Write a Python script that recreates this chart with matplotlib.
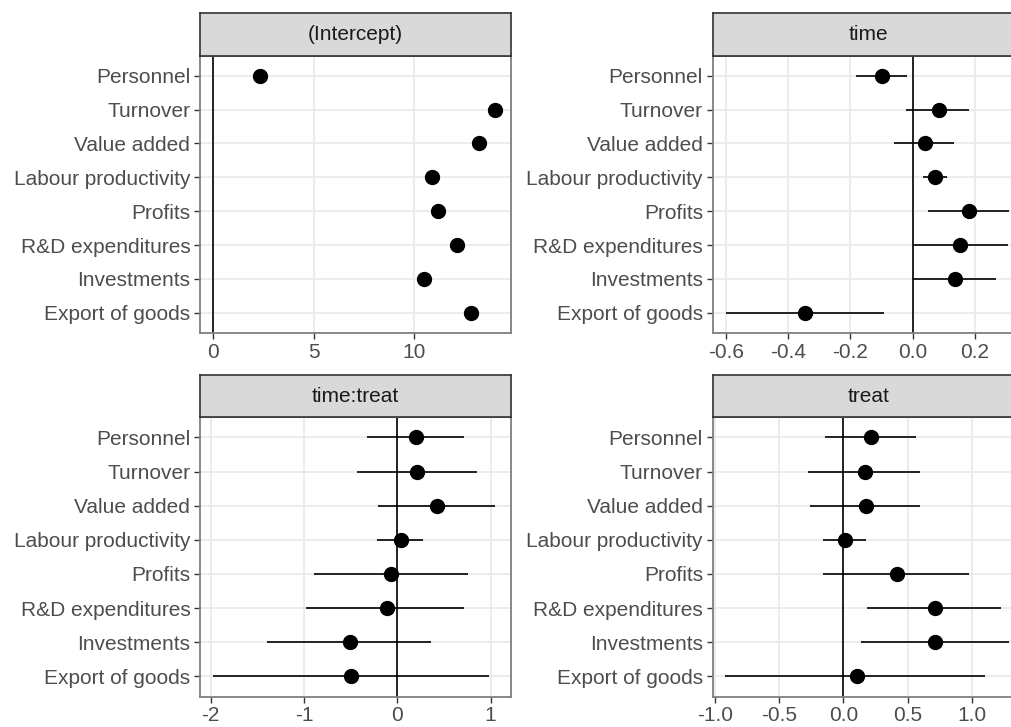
import matplotlib
matplotlib.use("Agg")
import matplotlib.pyplot as plt

plt.rcParams["font.family"] = ["Liberation Sans", "DejaVu Sans"]

outcomes = ["Personnel", "Turnover", "Value added", "Labour productivity",
            "Profits", "R&D expenditures", "Investments", "Export of goods"]

# estimates and 95% intervals per term
intercept_est = [2.32, 14.03, 13.23, 10.88, 11.20, 12.12, 10.50, 12.82]
intercept_lo = [2.30, 14.01, 13.21, 10.86, 11.18, 12.10, 10.48, 12.80]
intercept_hi = [2.34, 14.05, 13.25, 10.90, 11.22, 12.14, 10.52, 12.84]

time_est = [-0.100, 0.084, 0.040, 0.073, 0.180, 0.154, 0.135, -0.345]
time_lo = [-0.183, -0.022, -0.060, 0.032, 0.049, 0.002, 0.002, -0.600]
time_hi = [-0.017, 0.180, 0.132, 0.110, 0.311, 0.306, 0.269, -0.091]

tt_est = [0.204, 0.211, 0.425, 0.036, -0.068, -0.114, -0.507, -0.493]
tt_lo = [-0.322, -0.435, -0.203, -0.214, -0.889, -0.975, -1.393, -1.972]
tt_hi = [0.718, 0.851, 1.050, 0.279, 0.758, 0.718, 0.358, 0.983]

treat_est = [0.214, 0.171, 0.178, 0.010, 0.413, 0.713, 0.713, 0.105]
treat_lo = [-0.140, -0.274, -0.261, -0.160, -0.160, 0.186, 0.137, -0.918]
treat_hi = [0.563, 0.597, 0.597, 0.175, 0.977, 1.225, 1.289, 1.103]

W, H = 1011, 727
fig = plt.figure(figsize=(W / 100, H / 100), dpi=100)


def px_rect(x0, x1, y0, y1):
    return [x0 / W, (H - y1) / H, (x1 - x0) / W, (y1 - y0) / H]


def facet(title, est, lo, hi, xlim, xticks, xticklabels, x0, x1, strip_top, body_top, body_bottom):
    ax = fig.add_axes(px_rect(x0, x1, body_top, body_bottom))
    ypos = list(range(len(outcomes)))
    ax.set_ylim(len(outcomes) - 0.4, -0.6)
    ax.set_xlim(*xlim)
    ax.set_axisbelow(True)
    ax.grid(True, color="#EBEBEB", linewidth=1.3)
    ax.set_xticks(xticks)
    ax.set_xticklabels(xticklabels)
    ax.set_yticks(ypos)
    ax.set_yticklabels(outcomes)
    ax.tick_params(axis="both", colors="#333333", labelcolor="#4D4D4D",
                   labelsize=15, length=4, width=1, pad=3)
    ax.axvline(0, color="black", linewidth=1.2, zorder=2)
    ax.hlines(ypos, lo, hi, color="black", linewidth=1.2, zorder=3)
    ax.plot(est, ypos, "o", color="black", markersize=10, zorder=4)
    for s in ax.spines.values():
        s.set_color("#7F7F7F")
        s.set_linewidth(1.3)

    st = fig.add_axes(px_rect(x0, x1, strip_top, body_top))
    st.set_facecolor("#D9D9D9")
    st.set_xticks([])
    st.set_yticks([])
    for s in st.spines.values():
        s.set_color("#333333")
        s.set_linewidth(1.2)
    st.text(0.5, 0.5, title, ha="center", va="center", fontsize=15, color="#1A1A1A",
            transform=st.transAxes)
    return ax


facet("(Intercept)", intercept_est, intercept_lo, intercept_hi, (-0.66, 14.8),
      [0, 5, 10], ["0", "5", "10"], 200, 510.7, 12.7, 55.5, 333)
facet("time", time_est, time_lo, time_hi, (-0.643, 0.357),
      [-0.6, -0.4, -0.2, 0.0, 0.2], ["-0.6", "-0.4", "-0.2", "0.0", "0.2"],
      712.7, 1023.6, 12.7, 55.5, 333)
facet("time:treat", tt_est, tt_lo, tt_hi, (-2.115, 1.215),
      [-2, -1, 0, 1], ["-2", "-1", "0", "1"], 200, 510.7, 375, 417, 696.7)
facet("treat", treat_est, treat_lo, treat_hi, (-1.016, 1.40),
      [-1.0, -0.5, 0.0, 0.5, 1.0], ["-1.0", "-0.5", "0.0", "0.5", "1.0"],
      712.7, 1023.6, 375, 417, 696.7)

fig.savefig("out.png", dpi=100)
